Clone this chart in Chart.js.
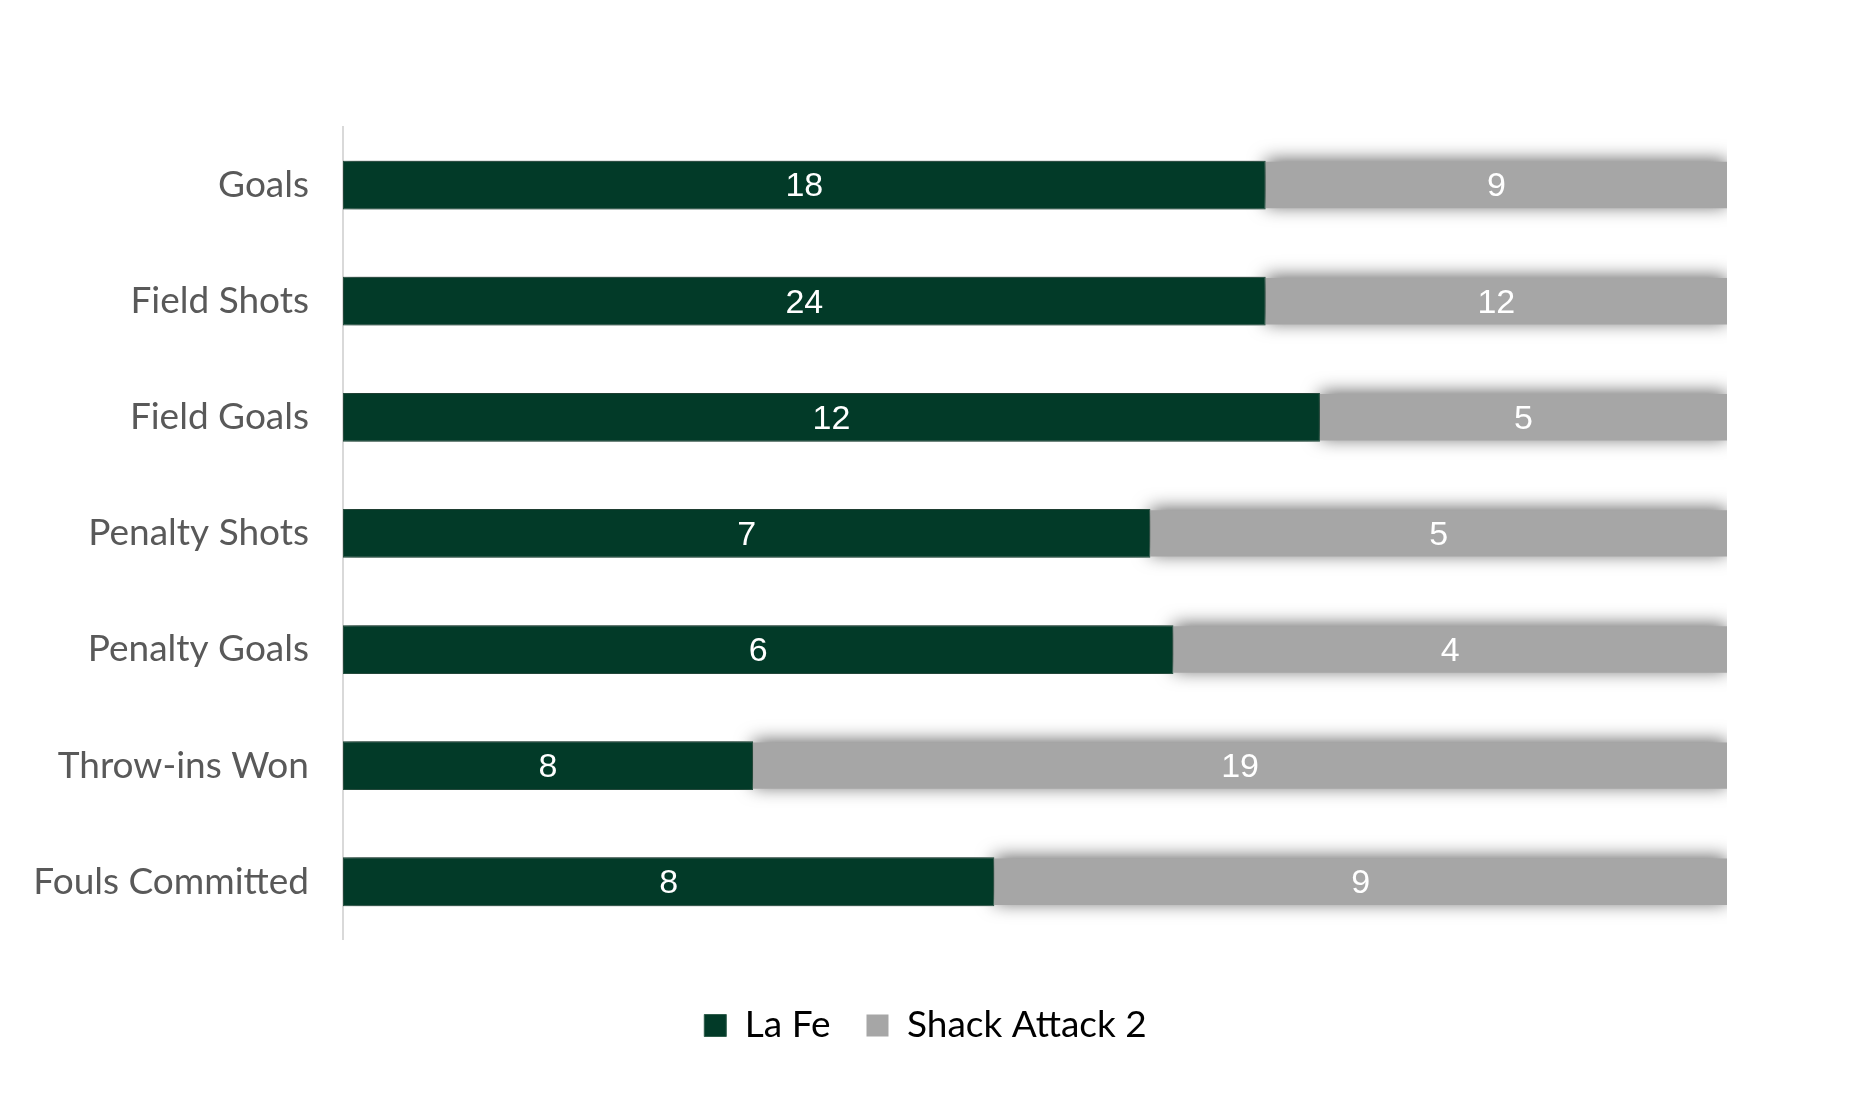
<!DOCTYPE html>
<html>
<head>
<meta charset="utf-8">
<script src="https://cdn.jsdelivr.net/npm/chart.js@4/dist/chart.umd.min.js"></script>
<style>
  html, body { margin: 0; padding: 0; background: #ffffff; }
  #wrap { width: 1851px; height: 1095px; }
</style>
</head>
<body>
<div id="wrap"><canvas id="myChart"></canvas></div>
<script>
// categories and raw counts
var categories = ['Goals', 'Field Shots', 'Field Goals', 'Penalty Shots', 'Penalty Goals', 'Throw-ins Won', 'Fouls Committed'];
var laFe = [18, 24, 12, 7, 6, 8, 8];
var shackAttack = [9, 12, 5, 5, 4, 19, 9];
var seriesNames = ['La Fe', 'Shack Attack 2'];

// 100% stacked -> share of each row
function share(a, b) {
    return a.map(function(v, i){ return v / (v + b[i]) * 100; });
}

// soft shadow under the bars, then the counts on top
var barExtras = {
    id: 'barExtras',
    afterLayout: function(chart) {
        // legend sits a bit right of the canvas centre in the original
        if (chart.legend) {
            chart.legend.left += 62;
            chart.legend.right += 62;
        }
    },
    beforeDatasetsDraw: function(chart) {
        var ctx = chart.ctx;
        ctx.save();
        ctx.shadowColor = 'rgba(0,0,0,0.6)';
        ctx.shadowBlur = 18;
        ctx.shadowOffsetX = 0;
        ctx.shadowOffsetY = -2;
    },
    afterDatasetsDraw: function(chart) {
        var ctx = chart.ctx;
        ctx.restore();
        var raw = [laFe, shackAttack];
        ctx.save();
        ctx.fillStyle = '#ffffff';
        ctx.font = '34px "Liberation Sans", Arial, sans-serif';
        ctx.textAlign = 'center';
        ctx.textBaseline = 'middle';
        chart.data.datasets.forEach(function(ds, di){
            var meta = chart.getDatasetMeta(di);
            meta.data.forEach(function(bar, i){
                var p = bar.getProps(['x', 'y', 'base'], true);
                ctx.fillText(String(raw[di][i]), (p.x + p.base) / 2, p.y + 2);
            });
        });
        ctx.restore();
    }
};

var ctx = document.getElementById('myChart').getContext('2d');
var myChart = new Chart(ctx, {
    type: 'bar',
    data: {
        labels: categories,
        datasets: [{
            label: seriesNames[0],
            data: share(laFe, shackAttack),
            backgroundColor: '#023a28',
            borderColor: '#2f5e4c',
            borderWidth: 1,
            borderSkipped: false,
            barPercentage: 0.42,
            categoryPercentage: 1
        }, {
            label: seriesNames[1],
            data: share(shackAttack, laFe),
            backgroundColor: '#a6a6a6',
            borderWidth: 0,
            barPercentage: 0.40,
            categoryPercentage: 1
        }]
    },
    options: {
        indexAxis: 'y',
        responsive: true,
        maintainAspectRatio: false,
        animation: false,
        devicePixelRatio: 1,
        layout: {
            padding: { top: 127, right: 124, left: 0, bottom: 41 }
        },
        scales: {
            x: {
                stacked: true,
                display: false,
                min: 0,
                max: 100
            },
            y: {
                stacked: true,
                afterFit: function(scale){ scale.width = 343; },
                grid: { display: false },
                border: { display: true, color: '#d9d9d9', width: 2 },
                ticks: {
                    padding: 26,
                    color: '#595959',
                    font: { family: 'Lato', size: 37 }
                }
            }
        },
        plugins: {
            legend: {
                position: 'bottom',
                title: {
                    display: true,
                    text: '',
                    font: { size: 1 },
                    padding: { top: 0, bottom: 30 }
                },
                labels: {
                    boxWidth: 22,
                    boxHeight: 22,
                    padding: 36,
                    color: '#000000',
                    font: { family: 'Lato', size: 37 }
                }
            },
            tooltip: { enabled: false }
        }
    },
    plugins: [barExtras]
});
</script>
</body>
</html>
